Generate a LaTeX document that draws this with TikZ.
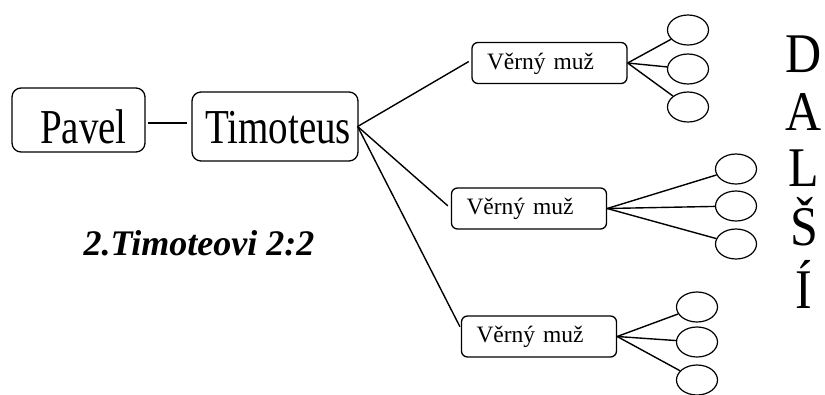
\documentclass[tikz,border=0pt]{standalone}
\usepackage{fontspec}
\setmainfont{Liberation Serif}
\usepackage{graphicx}
\usetikzlibrary{shapes.geometric}
\begin{document}
\begin{tikzpicture}[x=1pt,y=-1pt,
  bigbox/.style={draw, rounded corners=9pt, line width=1.3pt, inner sep=0pt, text depth=0pt, font=\fontsize{39}{39}\selectfont},
  manbox/.style={draw, rounded corners=6pt, line width=1.3pt, minimum width=155pt, minimum height=41pt, inner xsep=15pt, inner ysep=0pt, text width=125pt, align=left, text height=17pt, text depth=5pt, font=\fontsize{23.5}{26}\selectfont},
  leaf/.style={draw, ellipse, line width=1.2pt, minimum width=41pt, minimum height=30pt, inner sep=0pt},
  conn/.style={line width=1.4pt},
  letter/.style={font=\fontsize{50}{50}\selectfont, anchor=base, inner sep=0pt}]
\useasboundingbox (0,0) rectangle (825,394);

% main boxes
\node[bigbox, minimum width=133pt, minimum height=64pt, text height=46pt] (pavel) at (78.5,120) {\hspace*{10pt}\scalebox{1}[1.25]{Pavel}};
\node[bigbox, minimum width=166pt, minimum height=69pt, text height=33pt] (timo) at (275,126.5) {\hspace*{6pt}\scalebox{1}[1.25]{Timoteus}};
\coordinate (hub) at ([xshift=-1pt]timo.east);

% faithful men
\node[manbox] (m1) at (549.5,63) {Věrný muž};
\node[manbox] (m2) at (529,208.5) {Věrný muž};
\node[manbox] (m3) at (539,336.5) {Věrný muž};

% ellipses
\node[leaf] (e11) at (688,30) {};
\node[leaf] (e12) at (688,69) {};
\node[leaf] (e13) at (688,107) {};
\node[leaf] (e21) at (736,169) {};
\node[leaf] (e22) at (736,206) {};
\node[leaf] (e23) at (736,244) {};
\node[leaf] (e31) at (697,307) {};
\node[leaf] (e32) at (697,342) {};
\node[leaf] (e33) at (697,380) {};

% connectors
\draw[conn, shorten <=2pt, shorten >=4pt] ([yshift=-3pt]pavel.east) -- ([yshift=3.5pt]timo.west);
\draw[conn, shorten >=3pt] (hub) -- ([yshift=3pt]m1.west);
\draw[conn, shorten >=4pt] (hub) -- (m2.west);
\draw[conn, shorten >=2pt] (hub) -- ([yshift=8pt]m3.west);

\foreach \m/\a/\b/\c in {m1/e11/e12/e13, m2/e21/e22/e23, m3/e31/e32/e33}{
  \draw[conn] (\m.east) -- (\a);
  \draw[conn] (\m.east) -- (\b);
  \draw[conn] (\m.east) -- (\c);
}

% title
\node[anchor=base, inner sep=0pt, font=\fontsize{36}{36}\selectfont\bfseries\itshape] (verse) at (199,255) {2.Timoteovi 2:2};

% DALŠÍ
\node[letter] (l1) at (804,72) {\scalebox{1}[1.12]{D}};
\node[letter] (l2) at (804,130) {\scalebox{1}[1.12]{A}};
\node[letter] (l3) at (804,186) {\scalebox{1}[1.12]{L}};
\node[letter] (l4) at (804,245) {\scalebox{1}[1.12]{Š}};
\node[letter] (l5) at (804,308) {\scalebox{1}[1.12]{Í}};
\end{tikzpicture}
\end{document}
